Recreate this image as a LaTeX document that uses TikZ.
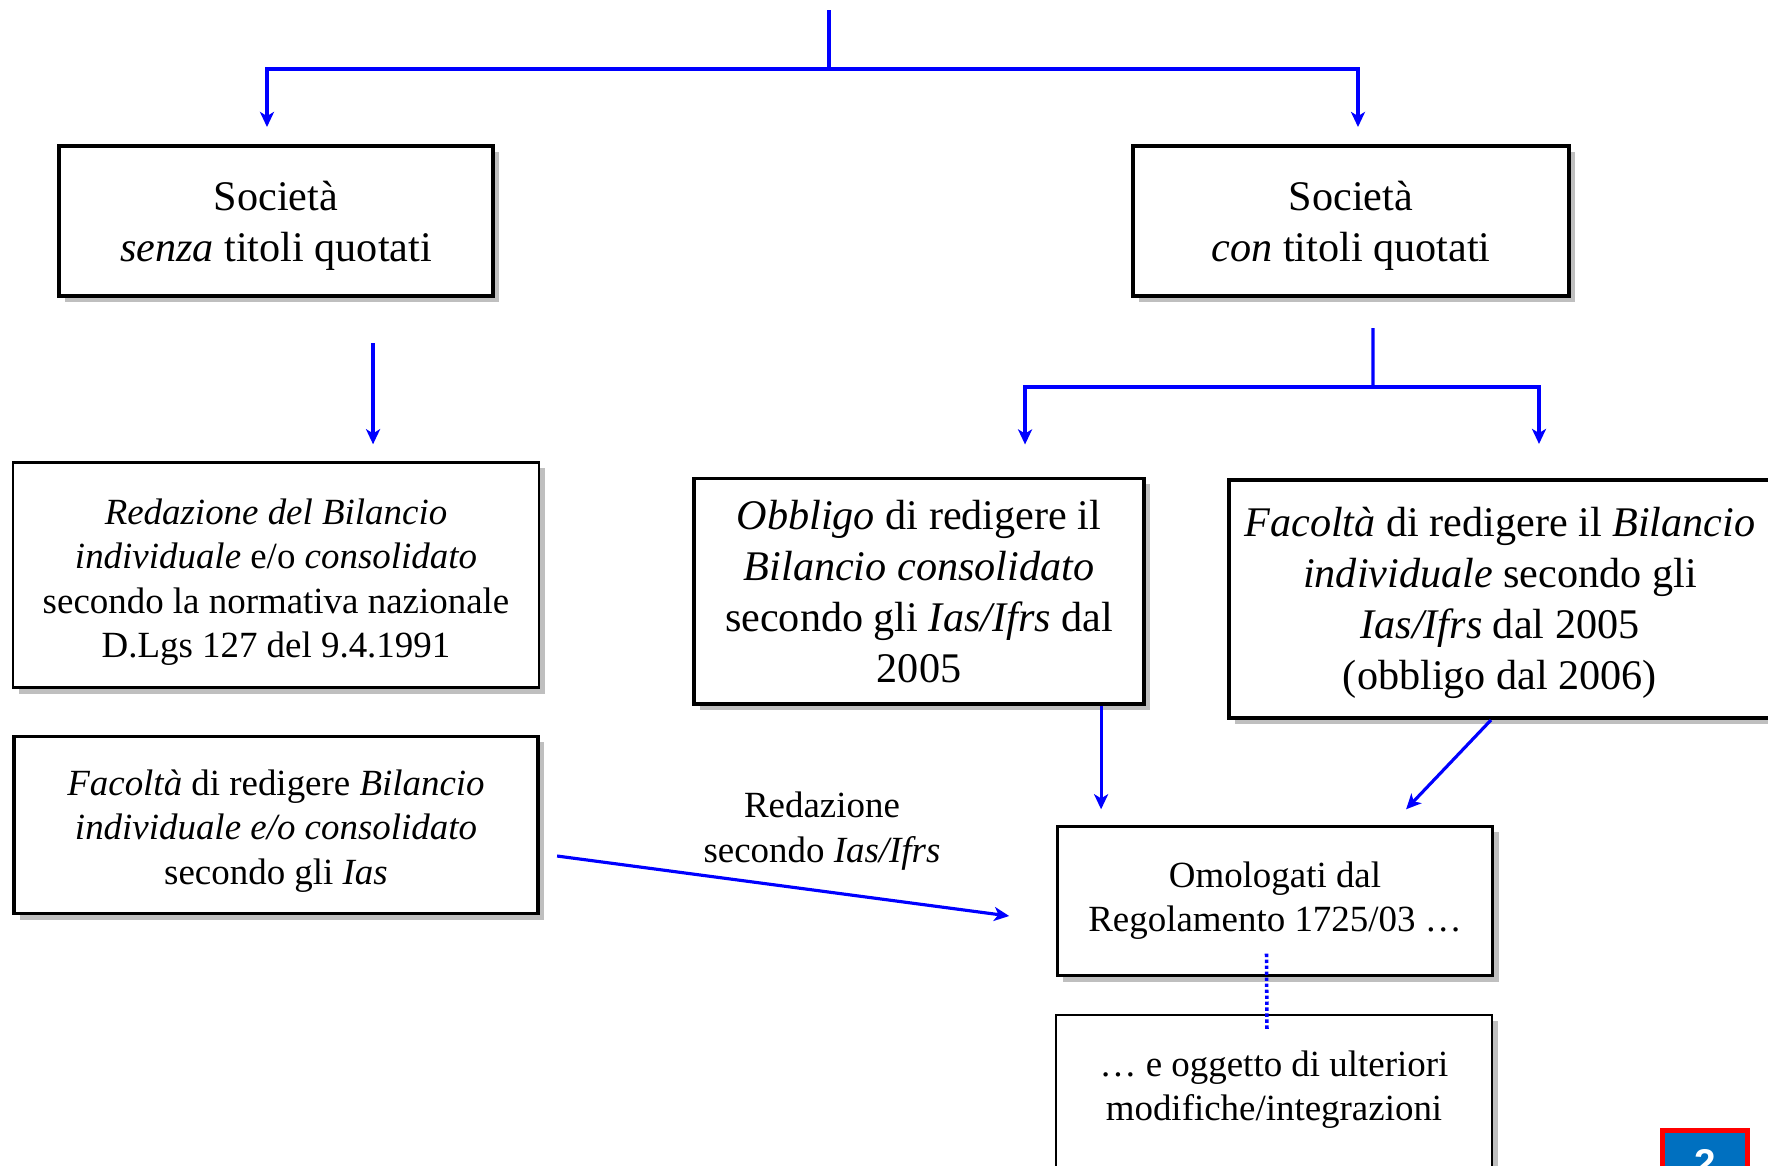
\documentclass[tikz,border=0pt]{standalone}
\usepackage{fontspec}
\setmainfont{Liberation Serif}
\newfontfamily\numfont{Liberation Sans}
\usetikzlibrary{arrows.meta, shadows}
\newcommand{\bigtxt}{\fontsize{12}{14.5}\selectfont}
\newcommand{\smalltxt}{\fontsize{10.5}{12.6}\selectfont}
\newcommand{\pushdown}[1]{\rule{0pt}{\dimexpr\fontcharht\font`l+#1\relax}}
\definecolor{pageblue}{RGB}{0,112,192}
\tikzstyle{basecell} = [rectangle, draw, fill=white, align=center, text centered, drop shadow={shadow xshift=0.06cm, shadow yshift=-0.06cm, fill=black!25, opacity=1}]
\tikzstyle{bigcell} = [basecell, line width=1.1pt, font=\bigtxt]
\tikzstyle{boldcell} = [basecell, line width=1.1pt, font=\smalltxt]
\tikzstyle{smallcell} = [basecell, line width=0.65pt, font=\smalltxt]
\tikzstyle{line} = [draw, blue, line width=0.9pt, -{Stealth[length=4.3pt, width=4pt, inset=1.2pt]}]
\tikzstyle{link} = [draw, blue, line width=0.9pt]
\tikzstyle{dotline} = [draw, blue, line width=1pt, dash pattern=on 0.95pt off 0.75pt]
\tikzstyle{lbl} = [align=center, font=\smalltxt]
\tikzstyle{pagebox} = [rectangle, draw=red, line width=1.4pt, fill=pageblue, text=white, font=\numfont\bfseries\fontsize{11}{11}\selectfont]

\begin{document}
\begin{tikzpicture}[x=0.01cm, y=-0.01cm]
    \useasboundingbox (0,0) rectangle (1768,1166);

    \node[bigcell, minimum width=4.34cm, minimum height=1.50cm](senza) at (276,221) {\pushdown{3.2pt}Società\\ \textit{senza} titoli quotati};
    \node[bigcell, minimum width=4.35cm, minimum height=1.50cm](con) at (1351,221) {\pushdown{3.2pt}Società\\ \textit{con} titoli quotati};
    \node[smallcell, minimum width=5.26cm, minimum height=2.25cm](redaz) at (276,575) {\pushdown{4.5pt}\textit{Redazione del Bilancio}\\ \textit{individuale} e/o \textit{consolidato}\\ secondo la normativa nazionale\\ D.Lgs 127 del 9.4.1991};
    \node[boldcell, minimum width=5.24cm, minimum height=1.77cm](facl) at (276,825) {\pushdown{3.8pt}\textit{Facoltà} di redigere \textit{Bilancio}\\ \textit{individuale e/o consolidato}\\ secondo gli \textit{Ias}};
    \node[bigcell, minimum width=4.50cm, minimum height=2.25cm](obbl) at (919,591) {\pushdown{0.6pt}\textit{Obbligo} di redigere il\\ \textit{Bilancio consolidato}\\ secondo gli \textit{Ias/Ifrs} dal\\ 2005};
    \node[bigcell, minimum width=5.42cm, minimum height=2.38cm](facr) at (1500,599) {\pushdown{2.6pt}\textit{Facoltà} di redigere il \textit{Bilancio}\\ \textit{individuale} secondo gli\\ \textit{Ias/Ifrs} dal 2005\\ (obbligo dal 2006)};
    \node[smallcell, minimum width=4.35cm, minimum height=1.49cm](omol) at (1275,901) {Omologati dal\\ Regolamento 1725/03 …};
    \node[smallcell, anchor=north, minimum width=4.36cm, inner ysep=0.355cm, text depth=1.5cm](ogg) at (1274,1014) {… e oggetto di ulteriori\\ modifiche/integrazioni};
    \node[lbl](ias) at (822,831) {Redazione\\ secondo \textit{Ias/Ifrs}};
    \node[pagebox, anchor=north, minimum width=0.85cm, minimum height=0.65cm](page) at (1705,1128) {2};

    \coordinate (root) at (829,10);
    \coordinate (split) at (829,69);
    \coordinate (split2) at (1373,387);

    \path[link] (root) -- (split);
    \path[line, shorten >=0.17cm] (split) -| ([xshift=-0.09cm]senza.north);
    \path[line, shorten >=0.17cm] (split) -| ([xshift=0.07cm]con.north);
    \path[line, shorten <=0.45cm, shorten >=0.17cm] ([xshift=0.97cm]senza.south) -- ([xshift=0.97cm]redaz.north);
    \path[link, shorten <=0.30cm] ([xshift=0.22cm]con.south) -- (split2);
    \path[line, shorten >=0.32cm] (split2) -| ([xshift=1.06cm]obbl.north);
    \path[line, shorten >=0.34cm] (split2) -| ([xshift=0.39cm]facr.north);
    \path[line, shorten >=0.16cm] ([xshift=1.82cm]obbl.south) -- ([xshift=1.82cm]obbl.south |- omol.north);
    \path[line] ([xshift=-0.09cm]facr.south) -- ([xshift=1.31cm, yshift=0.16cm]omol.north);
    \path[line] ([xshift=0.17cm, yshift=-0.31cm]facl.east) -- ([xshift=-0.47cm, yshift=-0.15cm]omol.west);
    \path[dotline] ([xshift=-0.085cm, yshift=0.23cm]omol.south) -- ([xshift=-0.07cm, yshift=-0.15cm]ogg.north);
\end{tikzpicture}
\end{document}
